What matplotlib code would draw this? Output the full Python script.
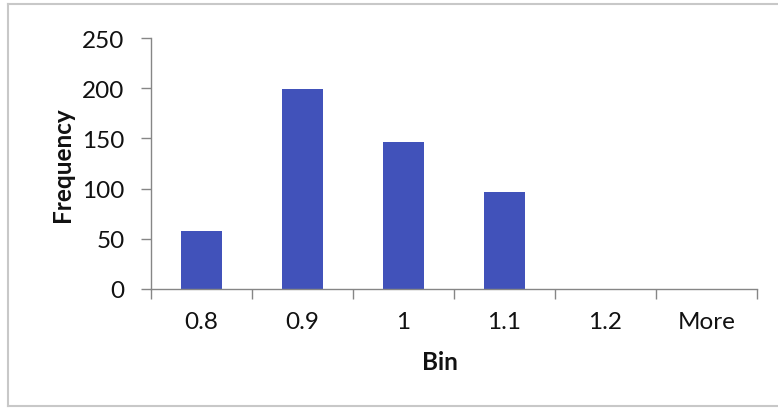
import matplotlib.pyplot as plt
import numpy as np

# histogram counts per bin
bins = ["0.8", "0.9", "1", "1.1", "1.2", "More"]
frequency = [58, 199, 146, 97, 0, 0]
y_ticks = [0, 50, 100, 150, 200, 250]

plt.rcParams['font.family'] = ['Lato', 'DejaVu Sans']
FS = 17.5

fig = plt.figure(figsize=(7.78, 4.10), dpi=100)
ax = fig.add_axes([151 / 778, 1 - 290 / 410, 606 / 778, 251 / 410])

x = np.arange(len(bins))
ax.bar(x, frequency, width=0.4, color='#4152BA')

ax.set_xlim(-0.5, len(bins) - 0.5)
ax.set_ylim(0, 250)
ax.set_yticks(y_ticks)
ax.set_yticklabels([str(v) for v in y_ticks])

# tick marks between categories, labels centred under the bars
ax.set_xticks(np.arange(len(bins) + 1) - 0.5)
ax.set_xticklabels([])
ax.set_xticks(x, minor=True)
ax.set_xticklabels(bins, minor=True)
ax.tick_params(axis='x', which='minor', length=0, pad=16, labelsize=FS, labelcolor='#111111')
ax.tick_params(axis='x', which='major', length=7, width=1, color='#868686')
ax.tick_params(axis='y', length=7, width=1, color='#868686', pad=12, labelsize=FS,
               labelcolor='#111111')

for side in ['top', 'right']:
    ax.spines[side].set_visible(False)
for side in ['left', 'bottom']:
    ax.spines[side].set_color('#868686')
    ax.spines[side].set_linewidth(1)

fig.text(440 / 778, 1 - 363 / 410, "Bin", fontsize=FS, fontweight='bold',
         ha='center', va='center', color='#111111')
fig.text(62 / 778, 1 - 165 / 410, "Frequency", fontsize=FS, fontweight='bold',
         rotation=90, ha='center', va='center', color='#111111')

# chart area border
fig.add_artist(plt.Line2D([8 / 778, 1], [1 - 5 / 410, 1 - 5 / 410], color='#c8c8c8', lw=1.5))
fig.add_artist(plt.Line2D([8 / 778, 8 / 778], [1 - 5 / 410, 1 - 407 / 410], color='#c8c8c8', lw=1.5))
fig.add_artist(plt.Line2D([8 / 778, 1], [1 - 407 / 410, 1 - 407 / 410], color='#c8c8c8', lw=1.5))

fig.savefig("out.png", dpi=100)
